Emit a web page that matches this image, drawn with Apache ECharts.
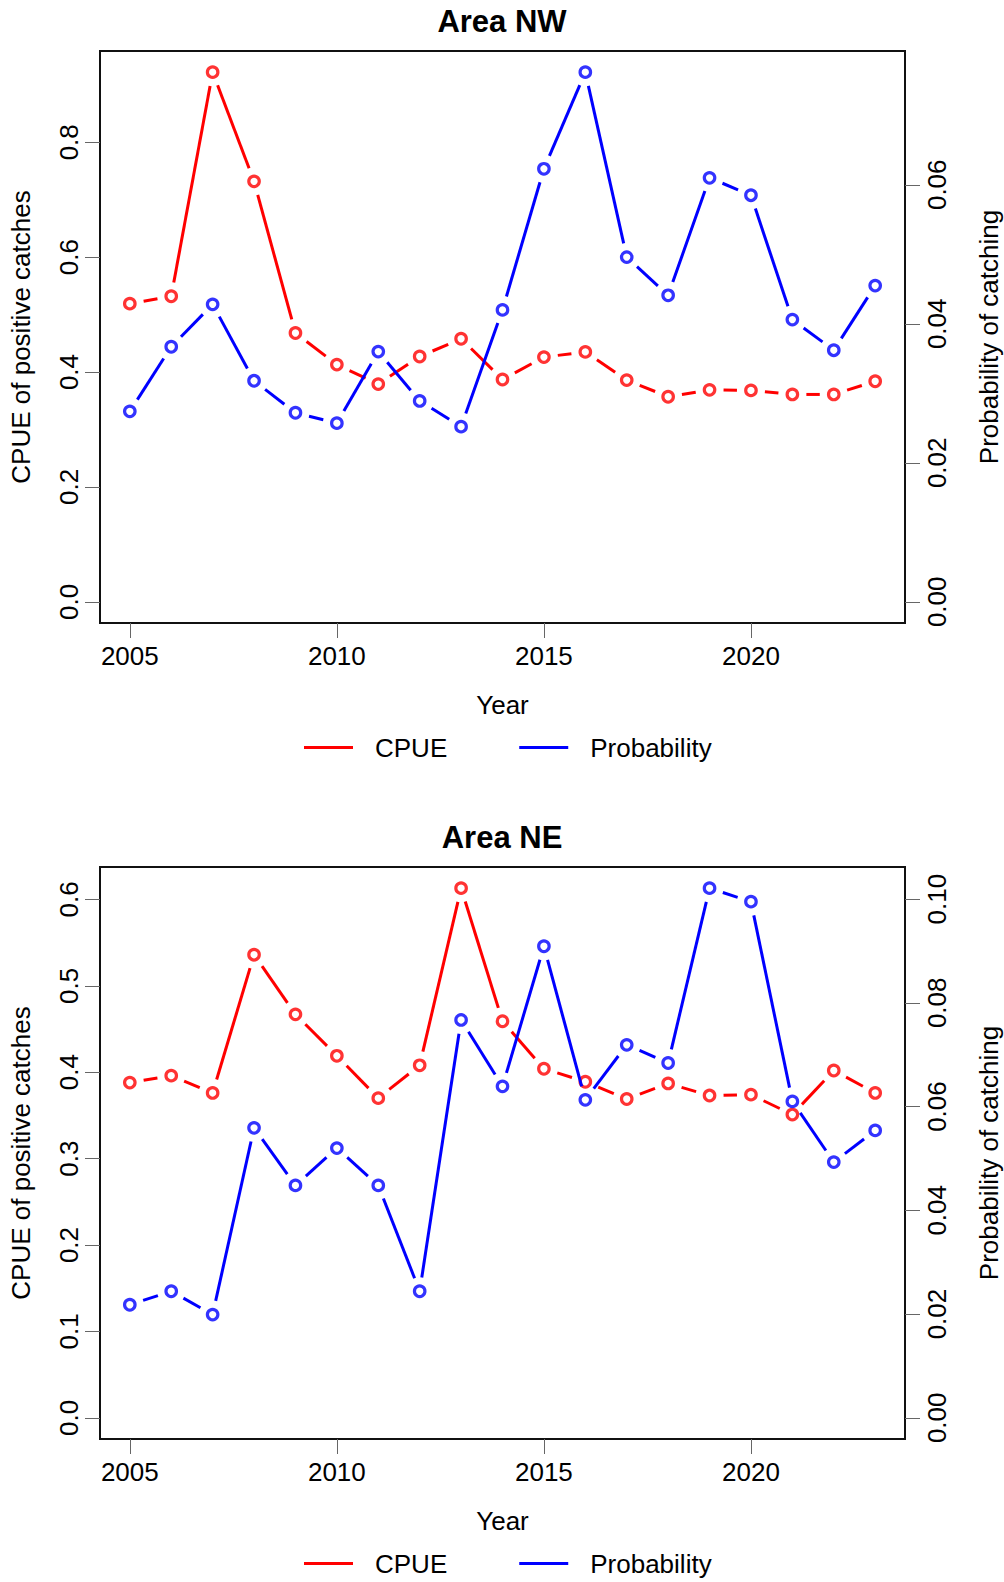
<!DOCTYPE html>
<html><head><meta charset="utf-8">
<script src="https://cdn.jsdelivr.net/npm/echarts@6/dist/echarts.min.js"></script>
<style>html,body{margin:0;padding:0;background:#fff}#c{width:1004px;height:1582px}</style>
</head><body><div id="c"></div>
<script>
const years = [2005,2006,2007,2008,2009,2010,2011,2012,2013,2014,2015,2016,2017,2018,2019,2020,2021,2022,2023];
const cpueNW = [0.519,0.532,0.922,0.732,0.468,0.413,0.379,0.427,0.458,0.387,0.426,0.435,0.386,0.357,0.369,0.368,0.361,0.361,0.384];
const probNW = [0.0274,0.0367,0.0428,0.0318,0.0272,0.0257,0.0360,0.0289,0.0252,0.0420,0.0623,0.0762,0.0496,0.0441,0.0610,0.0585,0.0406,0.0362,0.0455];
const cpueNE = [0.388,0.396,0.376,0.536,0.467,0.419,0.370,0.408,0.613,0.459,0.404,0.389,0.369,0.387,0.373,0.374,0.351,0.402,0.376];
const probNE = [0.0218,0.0244,0.0199,0.0559,0.0448,0.0520,0.0448,0.0244,0.0767,0.0639,0.0909,0.0613,0.0719,0.0684,0.1021,0.0995,0.0610,0.0493,0.0554];
const yearTicks = [2005,2010,2015,2020];
const cpueTicksNW = [0,0.2,0.4,0.6,0.8];
const probTicksNW = [0,0.02,0.04,0.06];
const cpueTicksNE = [0,0.1,0.2,0.3,0.4,0.5,0.6];
const probTicksNE = [0,0.02,0.04,0.06,0.08,0.10];
const seriesNames = ['CPUE','Probability'];
const titles = ['Area NW','Area NE'];

const FONT = '"Liberation Sans", Arial, Helvetica, sans-serif';
const RED = '#ff0000', BLUE = '#0000ff';
const GAP = 14;
const txt = {fontSize:26, color:'#000', fontFamily:FONT};

function rng(arr){ const m = Math.max(...arr); return [-0.04*m, 1.04*m]; }
const span = years[years.length-1]-years[0];
const xr = [years[0]-0.04*span, years[years.length-1]+0.04*span];

function segs(vals){ const out=[]; for(let i=0;i<vals.length-1;i++) out.push([years[i],vals[i],years[i+1],vals[i+1]]); return out; }
function segRender(color){
  return function(params, api){
    const p1 = api.coord([api.value(0), api.value(1)]);
    const p2 = api.coord([api.value(2), api.value(3)]);
    const dx = p2[0]-p1[0], dy = p2[1]-p1[1];
    const len = Math.hypot(dx,dy);
    const f = GAP/len;
    if (f >= 0.5) return null;
    return {type:'line', shape:{x1:p1[0]+f*dx, y1:p1[1]+f*dy, x2:p2[0]-f*dx, y2:p2[1]-f*dy},
            style:{stroke:color, lineWidth:3, lineCap:'butt'}};
  };
}

const option = {animation:false, backgroundColor:'#fff', title:[], legend:[], grid:[], xAxis:[], yAxis:[], series:[]};

function panel(idx, off, cpue, prob, cTicks, pTicks, cDec, pDec){
  const g = option.grid.length;           // main plotting grid
  const ga = g + 1;                        // thin grid carrying the year axis
  const xi = option.xAxis.length;
  const yi0 = option.yAxis.length;
  option.title.push({text:titles[idx], left:'center', top:6+off, padding:0,
    textStyle:{fontSize:31, fontWeight:'bold', color:'#000', fontFamily:FONT}});
  option.legend.push({top:734.5+off, left:304, orient:'horizontal', itemWidth:49, itemHeight:3, itemGap:72,
    icon:'rect', selectedMode:false, padding:0,
    textStyle:Object.assign({padding:[0,0,0,17]}, txt),
    data:[{name:seriesNames[0], itemStyle:{color:RED}},{name:seriesNames[1], itemStyle:{color:BLUE}}]});
  option.grid.push({left:100, top:51+off, width:805, height:572, show:true, borderColor:'#111', borderWidth:2,
    backgroundColor:'transparent', containLabel:false, outerBoundsMode:'none'});
  option.grid.push({left:100, top:622+off, width:805, height:1, show:false, containLabel:false, outerBoundsMode:'none'});
  // main x axis (no decorations)
  option.xAxis.push({gridIndex:g, type:'value', position:'bottom', min:xr[0], max:xr[1],
    axisLine:{show:false, onZero:false}, splitLine:{show:false}, axisTick:{show:false}, axisLabel:{show:false}});
  // year axis on thin grid
  option.xAxis.push({gridIndex:ga, type:'value', position:'bottom', min:xr[0], max:xr[1],
    axisLine:{show:false, onZero:false}, splitLine:{show:false},
    axisTick:{show:true, inside:false, length:15, lineStyle:{color:'#666', width:1}, customValues:yearTicks},
    axisLabel:Object.assign({margin:20, customValues:yearTicks, formatter:v=>String(v)}, txt),
    name:'Year', nameLocation:'middle', nameGap:68.5, nameTextStyle:txt});
  const cr = rng(cpue), pr = rng(prob);
  option.yAxis.push({gridIndex:g, type:'value', position:'left', min:cr[0], max:cr[1],
    axisLine:{show:false, onZero:false}, splitLine:{show:false},
    axisTick:{show:true, inside:false, length:15, lineStyle:{color:'#666', width:1}, customValues:cTicks},
    axisLabel:Object.assign({rotate:90, margin:18, customValues:cTicks, formatter:v=>v.toFixed(cDec)}, txt),
    name:'CPUE of positive catches', nameLocation:'middle', nameRotate:90, nameGap:66, nameTextStyle:txt});
  option.yAxis.push({gridIndex:g, type:'value', position:'right', min:pr[0], max:pr[1],
    axisLine:{show:false, onZero:false}, splitLine:{show:false},
    axisTick:{show:true, inside:false, length:15, lineStyle:{color:'#666', width:1}, customValues:pTicks},
    axisLabel:Object.assign({rotate:90, margin:19, customValues:pTicks, formatter:v=>v.toFixed(pDec)}, txt),
    name:'Probability of catching', nameLocation:'middle', nameRotate:90, nameGap:71, nameTextStyle:txt});
  option.yAxis.push({gridIndex:ga, type:'category', data:[''], show:false});
  const defs = [[cpue, RED, yi0, seriesNames[0]], [prob, BLUE, yi0+1, seriesNames[1]]];
  defs.forEach(([vals, color, yi, name], k) => {
    option.series.push({type:'custom', name:name, xAxisIndex:xi, yAxisIndex:yi, data:segs(vals),
      encode:{x:[0,2], y:[1,3]}, itemStyle:{color:color}, renderItem:segRender(color), silent:true, z:2+2*k});
    option.series.push({type:'scatter', xAxisIndex:xi, yAxisIndex:yi, data:years.map((y,i)=>[y, vals[i]]),
      symbol:'circle', symbolSize:10.5, itemStyle:{color:'none', borderColor:color, borderWidth:3.2},
      silent:true, emphasis:{disabled:true}, z:3+2*k});
  });
}
panel(0, 0, cpueNW, probNW, cpueTicksNW, probTicksNW, 1, 2);
panel(1, 816, cpueNE, probNE, cpueTicksNE, probTicksNE, 1, 2);

const chart = echarts.init(document.getElementById('c'), null, {renderer:'svg'});
chart.setOption(option);
</script></body></html>
